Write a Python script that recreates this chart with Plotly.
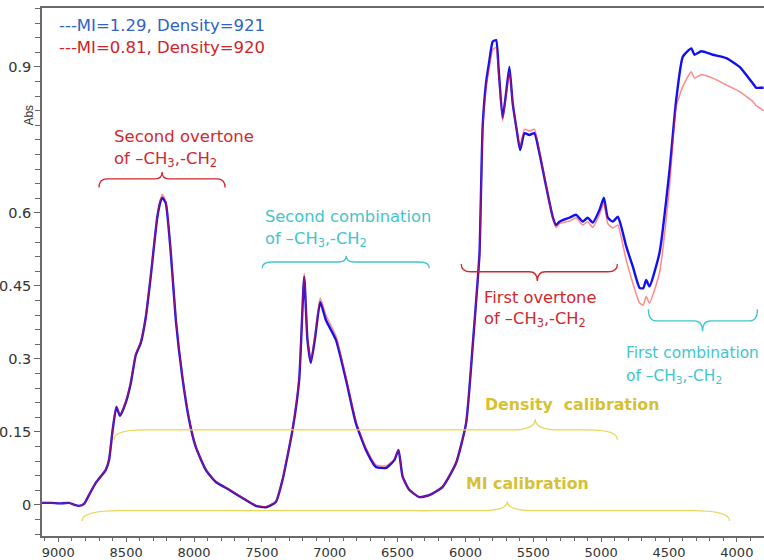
import plotly.graph_objects as go

# Wavenumber (1/cm) and absorbance for the two samples
wavenumber = [9120, 9050, 8990, 8921, 8880, 8847, 8810, 8774, 8724, 8650, 8626, 8602, 8572, 8545,
              8503, 8466, 8429, 8392, 8355, 8319, 8270, 8245, 8233, 8208, 8171, 8134, 8086, 8036,
              7987, 7913, 7839, 7741, 7643, 7544, 7470, 7397, 7348, 7274, 7225, 7188, 7164, 7139,
              7107, 7070, 7028, 6954, 6880, 6807, 6733, 6659, 6585, 6524, 6493, 6463, 6414, 6340,
              6266, 6168, 6069, 5995, 5947, 5910, 5896, 5873, 5848, 5823, 5799, 5774, 5755, 5726,
              5700, 5676, 5652, 5622, 5597, 5565, 5529, 5492, 5455, 5405, 5357, 5332, 5307, 5234,
              5184, 5136, 5099, 5062, 5012, 4980, 4951, 4914, 4877, 4852, 4815, 4767, 4717, 4690,
              4668, 4644, 4570, 4496, 4447, 4398, 4336, 4312, 4262, 4177, 4078, 3980, 3882, 3857,
              3833, 3803]

abs_mi129 = [0.004, 0.004, 0.003, 0.004, 0.000, -0.002, 0.002, 0.020, 0.045, 0.072, 0.092, 0.148, 0.201, 0.183,
             0.210, 0.250, 0.308, 0.333, 0.386, 0.469, 0.592, 0.625, 0.631, 0.620, 0.518, 0.380, 0.263, 0.175,
             0.119, 0.072, 0.047, 0.031, 0.014, -0.002, -0.005, 0.006, 0.051, 0.154, 0.257, 0.469, 0.339, 0.292,
             0.345, 0.417, 0.380, 0.339, 0.257, 0.168, 0.113, 0.078, 0.076, 0.092, 0.113, 0.058, 0.031, 0.016,
             0.020, 0.037, 0.086, 0.168, 0.325, 0.460, 0.518, 0.777, 0.867, 0.914, 0.952, 0.955, 0.894, 0.795,
             0.847, 0.900, 0.826, 0.770, 0.729, 0.764, 0.760, 0.764, 0.723, 0.654, 0.592, 0.575, 0.582, 0.590,
             0.596, 0.582, 0.590, 0.580, 0.606, 0.631, 0.590, 0.582, 0.592, 0.572, 0.531, 0.490, 0.446, 0.445,
             0.462, 0.449, 0.518, 0.688, 0.832, 0.921, 0.938, 0.925, 0.932, 0.925, 0.918, 0.900, 0.866, 0.857,
             0.857, 0.857]

abs_mi081 = [0.004, 0.004, 0.003, 0.004, 0.000, -0.002, 0.002, 0.020, 0.045, 0.072, 0.092, 0.148, 0.203, 0.185,
             0.212, 0.252, 0.310, 0.335, 0.388, 0.471, 0.595, 0.630, 0.638, 0.624, 0.520, 0.382, 0.265, 0.177,
             0.120, 0.073, 0.048, 0.032, 0.015, -0.001, -0.004, 0.007, 0.052, 0.156, 0.260, 0.476, 0.342, 0.296,
             0.352, 0.425, 0.390, 0.347, 0.262, 0.172, 0.117, 0.082, 0.080, 0.094, 0.113, 0.058, 0.031, 0.016,
             0.020, 0.037, 0.086, 0.168, 0.325, 0.458, 0.515, 0.770, 0.855, 0.900, 0.935, 0.940, 0.885, 0.790,
             0.842, 0.890, 0.826, 0.772, 0.735, 0.772, 0.768, 0.772, 0.728, 0.656, 0.590, 0.570, 0.578, 0.583,
             0.590, 0.575, 0.582, 0.570, 0.597, 0.620, 0.578, 0.569, 0.575, 0.550, 0.503, 0.456, 0.415, 0.410,
             0.428, 0.415, 0.477, 0.654, 0.818, 0.860, 0.890, 0.877, 0.884, 0.877, 0.863, 0.849, 0.829, 0.820,
             0.816, 0.810]

x_tick_vals = [9000, 8500, 8000, 7500, 7000, 6500, 6000, 5500, 5000, 4500, 4000]
x_tick_text = ["9000", "8500", "8000", "7500", "7000", "6500", "6000", "5500", "5000", "4500", "4000"]
y_tick_vals = [0, 0.15, 0.3, 0.45, 0.6, 0.9]
y_tick_text = ["0", "0.15", "0.3", "0.45", "0.6", "0.9"]

FONT = "DejaVu Sans"
RED = "#d2282c"
CYAN = "#3fc6cc"
YEL_TXT = "#d6c135"
YEL_LINE = "#e8d65a"

fig = go.Figure()
fig.add_trace(go.Scatter(x=wavenumber, y=abs_mi129, mode="lines",
                         line=dict(color="#1010f0", width=2.4, shape="spline", smoothing=0.5),
                         name="MI=1.29"))
fig.add_trace(go.Scatter(x=wavenumber, y=abs_mi081, mode="lines",
                         line=dict(color="rgba(255,20,20,0.5)", width=1.5, shape="spline", smoothing=0.5),
                         name="MI=0.81"))


def brace(L, R, M, yl, yt, ye, dx, dx2):
    return (f"M {L},{ye} Q {L},{yl} {L-dx},{yl} L {M+dx2},{yl} Q {M},{yl} {M},{yt} "
            f"Q {M},{yl} {M-dx2},{yl} L {R+dx},{yl} Q {R},{yl} {R},{ye}")


braces = [
    (8700, 7771, 8235, 0.670, 0.684, 0.652, 60, 50, RED, 1.3),
    (7498, 6266, 6878, 0.499, 0.512, 0.486, 70, 60, CYAN, 1.3),
    (6031, 4880, 5470, 0.479, 0.460, 0.495, 70, 60, RED, 1.3),
    (4652, 3848, 4253, 0.378, 0.356, 0.402, 60, 60, CYAN, 1.3),
    (8589, 4880, 5486, 0.154, 0.176, 0.134, 220, 180, YEL_LINE, 1.3),
    (8825, 4053, 5691, -0.012, 0.007, -0.033, 280, 200, YEL_LINE, 1.3),
]
for L, R, M, yl, yt, ye, dx, dx2, col, w in braces:
    fig.add_shape(type="path", xref="x", yref="y",
                  path=brace(L, R, M, yl, yt, ye, dx, dx2),
                  line=dict(color=col, width=w))

texts = [
    ("---MI=1.29, Density=921", 9009, 0.986, "#2f62c2", 16.5),
    ("---MI=0.81, Density=920", 9009, 0.939, "#cf2326", 16.5),
    ("Second overtone", 8604, 0.756, RED, 16.5),
    ("of \u2013CH<sub>3</sub>,-CH<sub>2</sub>", 8604, 0.709, RED, 16.5),
    ("Second combination", 7492, 0.592, CYAN, 16.3),
    ("of \u2013CH<sub>3</sub>,-CH<sub>2</sub>", 7492, 0.545, CYAN, 16.3),
    ("First overtone", 5876, 0.427, RED, 16.3),
    ("of \u2013CH<sub>3</sub>,-CH<sub>2</sub>", 5876, 0.380, RED, 16.3),
    ("First combination", 4830, 0.312, CYAN, 15.4),
    ("of \u2013CH<sub>3</sub>,-CH<sub>2</sub>", 4830, 0.263, CYAN, 15.4),
    ("<b>Density  calibration</b>", 5868, 0.207, YEL_TXT, 15.8),
    ("<b>MI calibration</b>", 6008, 0.043, YEL_TXT, 15.8),
]
for t, x, y, col, sz in texts:
    fig.add_annotation(text=t, x=x, y=y, xref="x", yref="y", xanchor="left", yanchor="middle",
                       showarrow=False, font=dict(family=FONT, size=sz, color=col))

fig.add_annotation(text="1/cm", x=4245, y=-0.0955, xref="x", yref="y", showarrow=False,
                   xanchor="center", yanchor="middle", font=dict(family=FONT, size=13, color="#333"))
fig.add_annotation(text="Abs", x=-0.018, y=0.80, xref="paper", yref="y", showarrow=False,
                   textangle=-90, xanchor="center", yanchor="middle",
                   font=dict(family="Arial", size=12, color="#333"))

fig.update_layout(
    width=764, height=560,
    margin=dict(l=42, r=0, t=8, b=24),
    paper_bgcolor="white", plot_bgcolor="white",
    showlegend=False,
    xaxis=dict(range=[9120, 3800], tickvals=x_tick_vals, ticktext=x_tick_text, automargin=False,
               ticks="outside", ticklen=4, tickcolor="#666", showgrid=False, zeroline=False,
               showline=True, linecolor="#6a6a6a", linewidth=1.5, mirror=True,
               tickfont=dict(family=FONT, size=13, color="#333"),
               minor=dict(dtick=100, tick0=4000, ticks="outside", ticklen=3, tickcolor="#666")),
    yaxis=dict(range=[-0.064, 1.021], tickvals=y_tick_vals, ticktext=y_tick_text, automargin=False,
               ticks="outside", ticklen=6, tickcolor="#666", showgrid=False, zeroline=False,
               showline=True, linecolor="#6a6a6a", linewidth=1.5, mirror=True,
               tickfont=dict(family=FONT, size=14.5, color="#333"),
               minor=dict(dtick=0.03, tick0=0, ticks="outside", ticklen=5, tickcolor="#666")),
)

# Remove the default 8px page margin so the figure sits at the window's top-left corner.
fig.write_html("out.html", config={"displayModeBar": False},
               post_script="document.body.style.margin='0px';")
